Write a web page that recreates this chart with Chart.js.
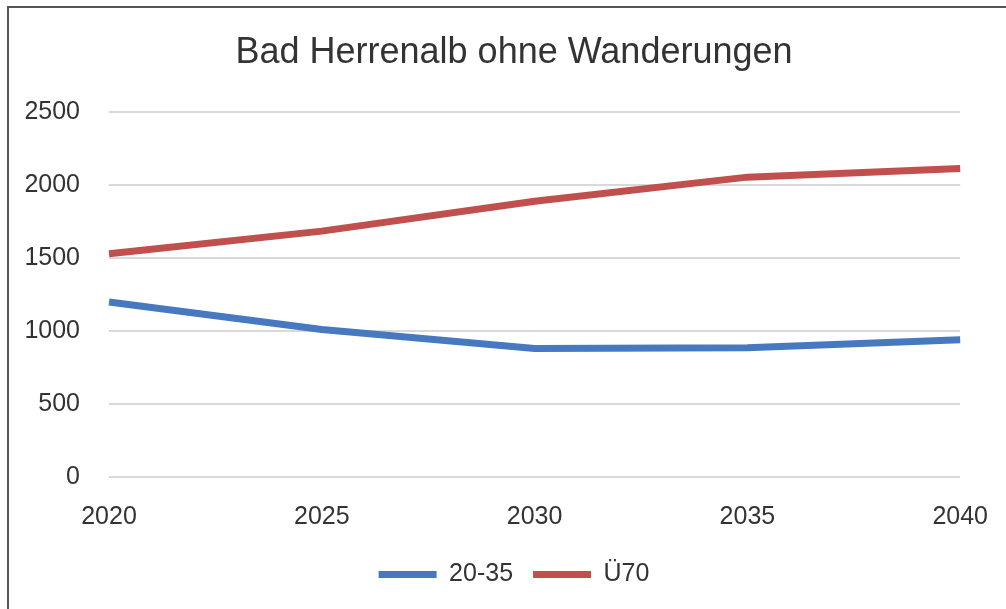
<!DOCTYPE html>
<html>
<head>
<meta charset="utf-8">
<script src="https://cdn.jsdelivr.net/npm/chart.js@4"></script>
<style>
    html, body { margin: 0; padding: 0; background: #fff; overflow: hidden; }
    #rahmen {
        position: absolute; left: 7px; top: 6px; width: 1100px; height: 700px;
        border: 2px solid #555;
    }
    #box { position: absolute; left: 0; top: 0; width: 1006px; height: 609px; }
</style>
</head>
<body>
<div id="rahmen"></div>
<div id="box"><canvas id="myChart" width="1006" height="609"></canvas></div>
<script>
// Daten
var jahre = ['2020', '2025', '2030', '2035', '2040']
var werte2035 = [1199, 1011, 881, 886, 941]
var werteUe70 = [1530, 1685, 1890, 2055, 2114]
var serienNamen = ['20-35', 'Ü70']

var schrift = "'Liberation Sans', Arial, sans-serif"
var textFarbe = '#333'

var ctx = document.getElementById('myChart').getContext('2d')

var myChart = new Chart(ctx, {
    type: 'line',
    data: {
        labels: jahre,
        datasets: [{
            label: serienNamen[0],
            data: werte2035,
            borderColor: '#4779c0',
            backgroundColor: '#4779c0',
            borderWidth: 7,
            pointRadius: 0,
            tension: 0
        }, {
            label: serienNamen[1],
            data: werteUe70,
            borderColor: '#c0504d',
            backgroundColor: '#c0504d',
            borderWidth: 7,
            pointRadius: 0,
            tension: 0
        }]
    },
    options: {
        responsive: false,
        animation: false,
        devicePixelRatio: 1,
        layout: { padding: { left: 22, right: 0, top: 0, bottom: 12 } },
        plugins: {
            title: {
                display: true,
                text: 'Bad Herrenalb ohne Wanderungen',
                color: textFarbe,
                font: { family: schrift, size: 36, weight: 'normal' },
                padding: { top: 31, bottom: 38 }
            },
            legend: {
                position: 'bottom',
                labels: {
                    color: textFarbe,
                    font: { family: schrift, size: 25 },
                    usePointStyle: true,
                    pointStyle: 'line',
                    pointStyleWidth: 58,
                    boxHeight: 25,
                    padding: 20
                }
            },
            tooltip: { enabled: false }
        },
        scales: {
            x: {
                offset: false,
                grid: { display: false, drawTicks: false },
                border: { display: false },
                ticks: {
                    color: textFarbe,
                    // groessere Zeilenhoehe schiebt die Jahreszahlen nach unten
                    font: { family: schrift, size: 25, lineHeight: 1.76 },
                    padding: 18,
                    maxRotation: 0
                },
                afterFit: axis => { axis.height = 65 }
            },
            y: {
                min: 0,
                max: 2500,
                grid: { color: '#d9d9d9', lineWidth: 2, drawTicks: false },
                border: { display: false },
                ticks: {
                    stepSize: 500,
                    color: textFarbe,
                    font: { family: schrift, size: 25 },
                    padding: 29,
                    callback: v => String(v)
                },
                afterFit: axis => { axis.width = 87 }
            },
            // leere Achse rechts, nur als Abstand
            rechts: {
                type: 'linear',
                position: 'right',
                grid: { display: false, drawTicks: false },
                border: { display: false },
                ticks: { display: false },
                afterFit: axis => { axis.width = 37 }
            }
        }
    }
})
</script>
</body>
</html>
